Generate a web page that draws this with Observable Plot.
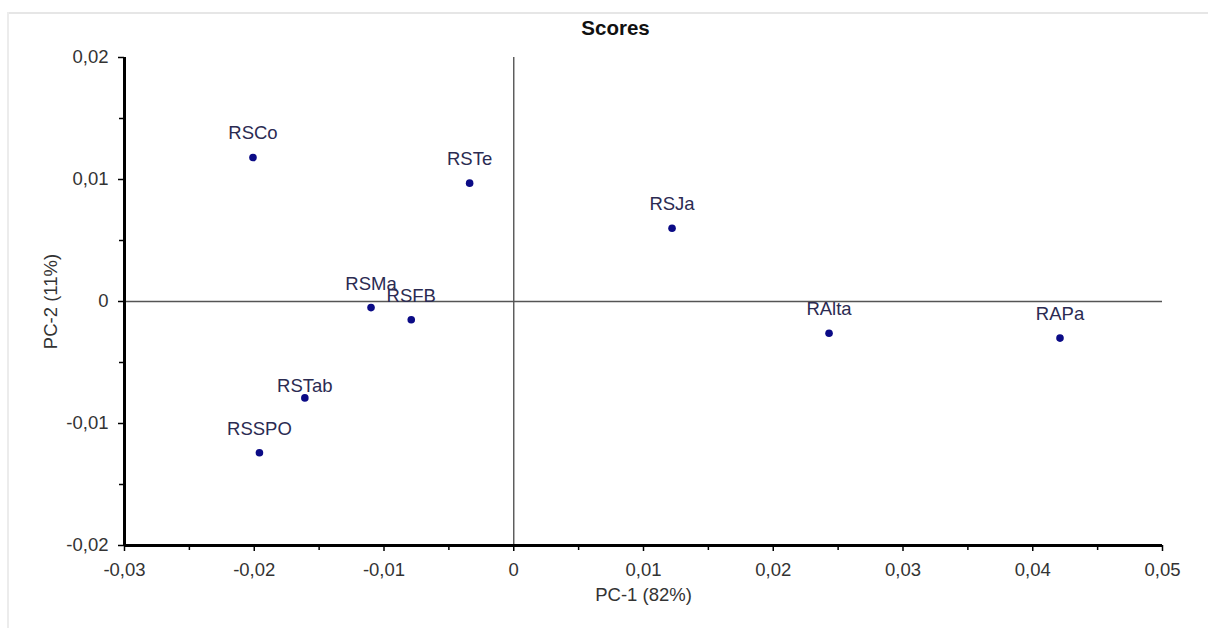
<!DOCTYPE html>
<html>
<head>
<meta charset="utf-8">
<script src="https://cdn.jsdelivr.net/npm/d3@7"></script>
<script src="https://cdn.jsdelivr.net/npm/@observablehq/plot@0.6"></script>
<style>
  html, body { margin: 0; padding: 0; background: #fff; }
  #wrap { position: relative; width: 1208px; height: 628px; overflow: hidden; }
  #wrap .edge-top { position: absolute; left: 7px; top: 12px; width: 1201px; height: 2px; background: #e6e6e6; }
  #wrap .edge-left { position: absolute; left: 7px; top: 12px; width: 2px; height: 616px; background: #ececec; }
  #chart { position: absolute; left: 0; top: 0; }
  svg { font-family: "Liberation Sans", Arial, sans-serif; }
</style>
</head>
<body>
<div id="wrap">
  <div class="edge-top"></div>
  <div class="edge-left"></div>
  <div id="chart"></div>
</div>
<script>
// PCA score plot: sample names and their PC-1 / PC-2 scores
const samples = ["RSCo", "RSTe", "RSJa", "RSMa", "RSFB", "RAlta", "RAPa", "RSTab", "RSSPO"];
const pc1 = [-0.0201, -0.0034, 0.0122, -0.0110, -0.0079, 0.0243, 0.0421, -0.0161, -0.0196];
const pc2 = [0.0118, 0.0097, 0.0060, -0.0005, -0.0015, -0.0026, -0.0030, -0.0079, -0.0124];

// axis ticks
const xTicks = [-0.03, -0.02, -0.01, 0, 0.01, 0.02, 0.03, 0.04, 0.05];
const yTicks = [-0.02, -0.01, 0, 0.01, 0.02];

const title = "Scores";
const xLabel = "PC-1 (82%)";
const yLabel = "PC-2 (11%)";

// labels that sit close above their dot
const closeLabels = ["RSTab"];

const data = samples.map((name, i) => ({name, pc1: pc1[i], pc2: pc2[i]}));
const mids = t => t.slice(1).map((v, i) => (v + t[i]) / 2);
const fmt = d => d === 0 ? "0" : d.toFixed(2).replace(".", ",");

const ink = "#333333";
const labelInk = "#2b2b52";
const dotFill = "#0b0b86";
const fs = 18.5;

const chart = Plot.plot({
  width: 1208,
  height: 628,
  marginLeft: 124,
  marginRight: 46,
  marginTop: 57,
  marginBottom: 83,
  style: {fontFamily: "'Liberation Sans', Arial, sans-serif", background: "transparent"},
  x: {domain: [-0.03, 0.05]},
  y: {domain: [-0.02, 0.02]},
  marks: [
    // zero reference lines
    Plot.ruleY([0], {stroke: "#555", strokeWidth: 1.4}),
    Plot.ruleX([0], {stroke: "#555", strokeWidth: 1.4}),
    // axis lines
    Plot.ruleY([-0.02], {stroke: "#000", strokeWidth: 3}),
    Plot.ruleX([-0.03], {stroke: "#000", strokeWidth: 3}),
    // major and minor ticks
    Plot.axisX(xTicks, {tickSize: 6, tickPadding: 11, tickFormat: fmt, fontSize: fs, color: ink, stroke: "#000", strokeWidth: 1.5, label: null}),
    Plot.axisX(mids(xTicks), {tickSize: 5, text: null, stroke: "#000", strokeWidth: 1.5, label: null}),
    Plot.axisY(yTicks, {tickSize: 6, tickPadding: 10, tickFormat: fmt, fontSize: fs, color: ink, stroke: "#000", strokeWidth: 1.5, label: null}),
    Plot.axisY(mids(yTicks), {tickSize: 5, text: null, stroke: "#000", strokeWidth: 1.5, label: null}),
    // axis titles and chart title
    Plot.text([xLabel], {frameAnchor: "bottom", lineAnchor: "middle", dy: 50, fontSize: fs, fill: ink}),
    Plot.text([yLabel], {frameAnchor: "left", textAnchor: "middle", lineAnchor: "middle", dx: -73, rotate: -90, fontSize: fs, fill: ink}),
    Plot.text([title], {frameAnchor: "top", lineAnchor: "middle", dx: -28, dy: -29, fontSize: 20.5, fontWeight: "bold", fill: "#111"}),
    // scores
    Plot.dot(data, {x: "pc1", y: "pc2", r: 3.8, fill: dotFill, stroke: "none"}),
    Plot.text(data.filter(d => !closeLabels.includes(d.name)), {x: "pc1", y: "pc2", text: "name", dy: -24, fontSize: fs, fill: labelInk}),
    Plot.text(data.filter(d => closeLabels.includes(d.name)), {x: "pc1", y: "pc2", text: "name", dy: -12, fontSize: fs, fill: labelInk})
  ]
});

document.getElementById("chart").appendChild(chart);
</script>
</body>
</html>
